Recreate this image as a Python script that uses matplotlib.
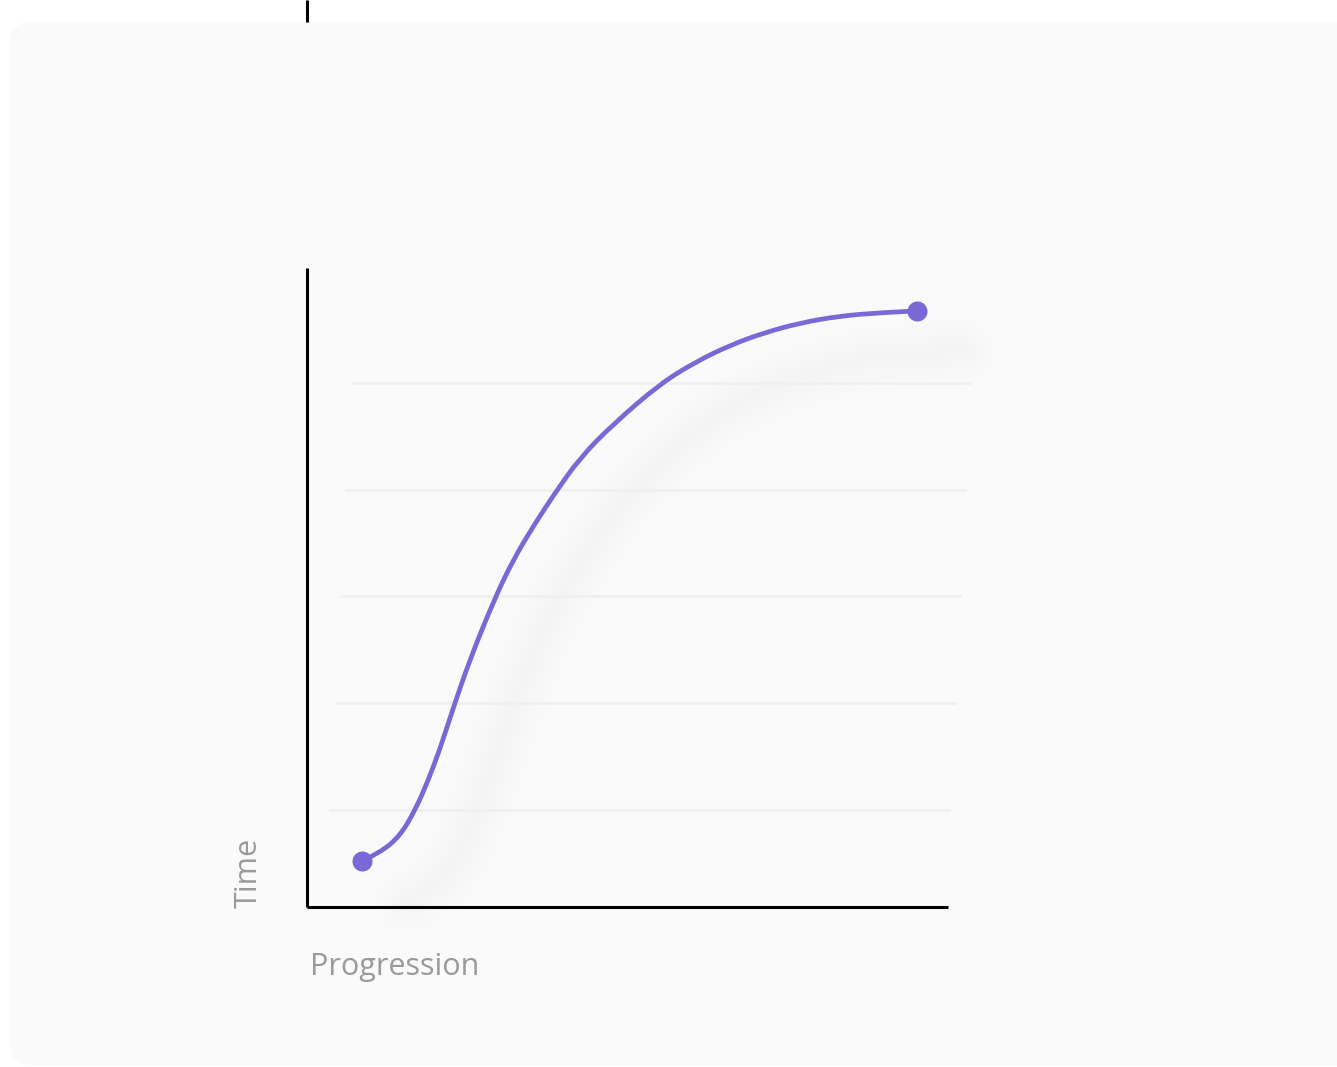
import matplotlib
matplotlib.use("Agg")
from matplotlib import pyplot as plt
from matplotlib.patches import FancyBboxPatch, PathPatch
from matplotlib.path import Path
import matplotlib.transforms as mtransforms

# curve (progress 0-100, time 0-100)
progress = [8.6, 11.4, 14.5, 16.9, 18.9, 20.8, 22.8, 25.4, 29.2, 32.1, 35.3, 38.7,
            42.6, 47.7, 55.1, 60.8, 66.0, 71.1, 76.9, 83.2, 89.4, 95.2]
time = [7.2, 8.5, 11.1, 15.2, 19.8, 24.9, 31.1, 38.7, 48.1, 54.2, 59.6, 64.8,
        70.3, 75.5, 81.9, 85.4, 87.9, 89.8, 91.4, 92.5, 93.0, 93.3]

# the faint guide lines, slightly slanted
grid_y = [15.2, 31.9, 48.6, 65.3, 82.0]
grid_x0 = [3.6, 4.5, 5.3, 6.1, 7.0]
grid_x1 = [100.2, 101.1, 101.9, 102.7, 103.4]

x_label = "Progression"
y_label = "Time"

purple = "#7a68d6"
label_grey = "#9a9a9a"


def smooth_path(xs, ys):
    # quadratic segments between midpoints, the read points act as control points
    verts = [(xs[0], ys[0])]
    codes = [Path.MOVETO]
    for i in range(1, len(xs) - 1):
        mx = (xs[i] + xs[i + 1]) / 2
        my = (ys[i] + ys[i + 1]) / 2
        if i == len(xs) - 2:
            mx, my = xs[-1], ys[-1]
        verts += [(xs[i], ys[i]), (mx, my)]
        codes += [Path.CURVE3, Path.CURVE3]
    return Path(verts, codes)


W, H = 1337, 1067
fig = plt.figure(figsize=(W / 100, H / 100), dpi=100)
fig.patch.set_facecolor("white")

# background layer in pixel units
bg = fig.add_axes([0, 0, 1, 1])
bg.set_xlim(0, W)
bg.set_ylim(H, 0)
bg.axis("off")
card = FancyBboxPatch((10, 22), W + 40, 1043,
                      boxstyle="round,pad=0,rounding_size=22",
                      facecolor="#fafafa", edgecolor="none")
bg.add_patch(card)
bg.plot([307, 307], [0, 22], color="black", lw=2.2, solid_capstyle="butt")

bg.text(310, 975, x_label, fontsize=22, color=label_grey, family="Open Sans",
        ha="left", va="baseline")
bg.text(264, 908, y_label, fontsize=22, color=label_grey, family="Open Sans",
        rotation=90, ha="right", va="bottom")

ax = fig.add_axes([307 / W, 160 / H, 641 / W, 639 / H])
ax.set_facecolor("none")
ax.set_xlim(0, 100)
ax.set_ylim(0, 100)
ax.set_xticks([])
ax.set_yticks([])
for s in ["top", "right"]:
    ax.spines[s].set_visible(False)
for s in ["left", "bottom"]:
    ax.spines[s].set_color("black")
    ax.spines[s].set_linewidth(2.2)
    ax.spines[s].set_capstyle("butt")

for y, x0, x1 in zip(grid_y, grid_x0, grid_x1):
    ax.plot([x0, x1], [y, y], color="#efefef", lw=1.8, clip_on=False, zorder=1)

curve = smooth_path(progress, time)

# soft shadow, shifted right and down
shadow_tr = mtransforms.offset_copy(ax.transData, fig=fig, x=45, y=-40, units="dots")
for w in [50, 40, 31, 23, 15, 8]:
    ax.add_patch(PathPatch(curve, facecolor="none", edgecolor="black", alpha=0.004,
                           lw=w, capstyle="round", joinstyle="round",
                           transform=shadow_tr, clip_on=False, zorder=0))

ax.add_patch(PathPatch(curve, facecolor="none", edgecolor=purple, lw=3.4,
                       capstyle="round", joinstyle="round", clip_on=False, zorder=3))
ax.plot([progress[0], progress[-1]], [time[0], time[-1]], "o", color=purple,
        markersize=14.4, markeredgewidth=0, clip_on=False, zorder=4)

fig.savefig("out.png", dpi=100, facecolor=fig.get_facecolor())
